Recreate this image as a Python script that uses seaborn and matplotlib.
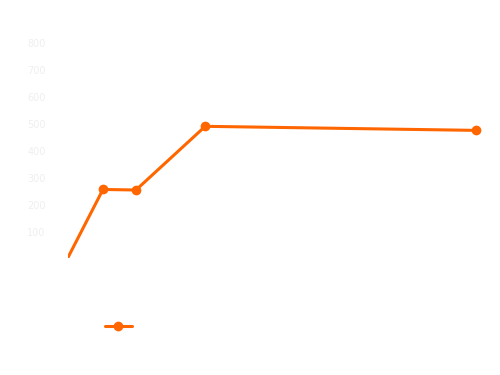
import seaborn as sns
import matplotlib.pyplot as plt
import pandas as pd

# valores
x_pos = [0, 1.3, 2.3, 4.4, 12.6]
valores = [-50, 259, 257, 493, 478]
y_ticks = [100, 200, 300, 400, 500, 600, 700, 800]
serie = "Serie"

df = pd.DataFrame({"x": x_pos, "valor": valores, "serie": serie})

sns.set_style("white")
fig = plt.figure(figsize=(5, 3.75), dpi=100)
ax = fig.add_axes([0.136, 0.312, 0.834, 0.608])

sns.lineplot(data=df, x="x", y="valor", hue="serie", palette=["#ff6600"],
             marker="o", markersize=7, markeredgewidth=0, linewidth=2.2,
             ax=ax, legend=False)

ax.set_xlim(0.24, 12.88)
ax.set_ylim(5, 850)
ax.set_yticks(y_ticks)
ax.set_yticklabels([str(v) for v in y_ticks])
ax.tick_params(axis="y", colors="#efefef", labelsize=7, length=0, pad=16)
ax.set_xticks([])
ax.set_xlabel("")
ax.set_ylabel("")
sns.despine(ax=ax, left=True, bottom=True)

handle = plt.Line2D([], [], color="#ff6600", marker="o", markersize=7,
                    markeredgewidth=0, linewidth=2.2)
leg = fig.legend([handle], [serie], loc="center left", bbox_to_anchor=(0.184, 0.128),
                 frameon=False, handlelength=2.0, fontsize=10)
for t in leg.get_texts():
    t.set_color("white")

fig.savefig("out.png", dpi=100)
